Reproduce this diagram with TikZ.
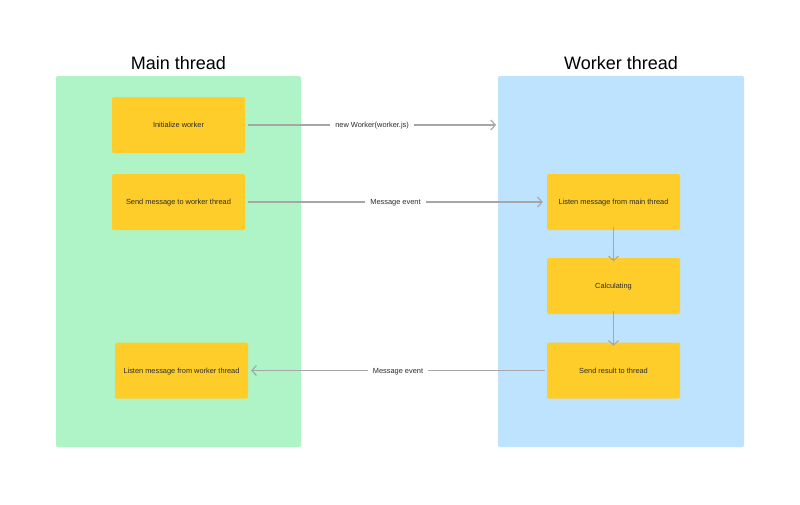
\documentclass[tikz,border=0pt]{standalone}
\usepackage{fontspec}
\setmainfont{Liberation Sans}
\usetikzlibrary{arrows.meta}
\definecolor{pgreen}{HTML}{AFF4C6}
\definecolor{pblue}{HTML}{BDE3FF}
\definecolor{byellow}{HTML}{FFCD29}
\definecolor{agray}{HTML}{A6A6A6}
\definecolor{tdark}{HTML}{2B2B2B}
\begin{document}
\begin{tikzpicture}[x=1pt,y=-1pt,
  panel/.style={rounded corners=2pt},
  stepbox/.style={fill=byellow,rounded corners=1.5pt,minimum width=133pt,minimum height=56pt,inner sep=0pt,font=\fontsize{7.4}{9}\selectfont,text=tdark,text height=6.4pt,text depth=1.4pt},
  title/.style={font=\fontsize{18}{22}\selectfont,text=black},
  conn/.style={draw=agray,line width=1.1pt,-{Straight Barb[length=4.5pt,width=10pt,line width=1.1pt]}},
  lbl/.style={fill=white,inner sep=5pt,font=\fontsize{7.4}{9}\selectfont,text=tdark,text height=6.4pt,text depth=1.4pt}]
\useasboundingbox (0,0) rectangle (800,504);
\fill[white] (0,0) rectangle (800,504);
\fill[pgreen,panel] (56,76) rectangle (301,447);
\fill[pblue,panel] (498,76) rectangle (744,447);
\node[title] (tmain) at (178.5,63) {Main thread};
\node[title] (twork) at (621,63) {Worker thread};
\node[stepbox] (init) at (178.5,125) {Initialize worker};
\node[stepbox] (send) at (178.5,202) {Send message to worker thread};
\node[stepbox] (lw) at (181.5,370.5) {Listen message from worker thread};
\node[stepbox] (lm) at (613.5,202) {Listen message from main thread};
\node[stepbox] (calc) at (613.5,286) {Calculating};
\node[stepbox] (res) at (613.5,370.5) {Send result to thread};
\coordinate (wend) at (496,125);
\draw[conn] ([xshift=3pt]init.east) -- node[lbl] {new Worker(worker.js)} (wend);
\draw[conn] ([xshift=3pt]send.east) -- node[lbl] {Message event} ([xshift=-4pt]lm.west);
\draw[conn] ([xshift=-2pt]res.west) -- node[lbl] {Message event} ([xshift=3pt]lw.east);
\draw[conn] ([yshift=3pt]lm.south) -- ([yshift=-3.5pt]calc.north);
\draw[conn] ([yshift=3pt]calc.south) -- ([yshift=-3.5pt]res.north);
\end{tikzpicture}
\end{document}
